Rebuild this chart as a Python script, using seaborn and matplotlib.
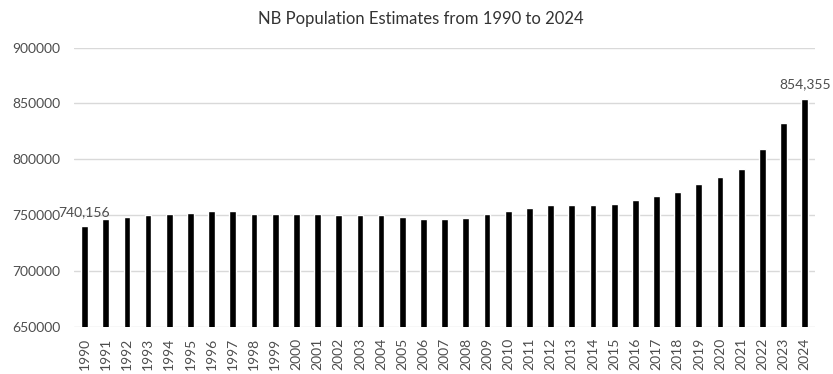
import matplotlib
matplotlib.use("Agg")
import matplotlib.pyplot as plt
import seaborn as sns
import pandas as pd

years = [str(y) for y in range(1990, 2025)]
population = [
    740156, 746100, 748500, 749700, 750900, 752100, 753300, 753300, 750900, 750900,
    750900, 750900, 749700, 749700, 749700, 748500, 746100, 746100, 747300, 750900,
    753300, 756600, 759000, 759000, 759000, 760200, 763800, 767400, 770700, 777600,
    783800, 791600, 809500, 832400, 854355,
]
y_ticks = [650000, 700000, 750000, 800000, 850000, 900000]
title = "NB Population Estimates from 1990 to 2024"

df = pd.DataFrame({"year": years, "population": population})

sns.set_theme(style="white")
plt.rcParams["font.family"] = ["Lato", "DejaVu Sans"]

text_color = "#4d4d4d"
fig = plt.figure(figsize=(8.33, 3.74), dpi=100)
ax = fig.add_axes([0.0888, 0.1265, 0.890, 0.746])

sns.barplot(data=df, x="year", y="population", color="black", width=0.32,
            saturation=1, ax=ax, zorder=3)

ax.set_ylim(y_ticks[0], y_ticks[-1])
ax.set_yticks(y_ticks)
ax.set_yticklabels([str(v) for v in y_ticks], color=text_color, fontsize=10)
ax.set_xlim(-0.5, len(years) - 0.5)
ax.set_xticks(range(len(years)))
ax.set_xticklabels(years, rotation=90, color=text_color, fontsize=10)
ax.tick_params(axis="both", length=0)
ax.tick_params(axis="x", pad=8)
ax.tick_params(axis="y", pad=10)
ax.set_xlabel("")
ax.set_ylabel("")

ax.yaxis.grid(True, color="#d9d9d9", linewidth=1)
ax.set_axisbelow(True)
for side in ["top", "right", "left", "bottom"]:
    ax.spines[side].set_visible(False)

# Value labels on the first and last bars
for i in (0, len(population) - 1):
    ax.annotate(f"{population[i]:,}", xy=(i, population[i]), xytext=(0, 6),
                textcoords="offset points", ha="center", va="bottom",
                color=text_color, fontsize=10)

fig.suptitle(title, x=0.505, y=0.97, fontsize=12, color="#333333")

fig.savefig("out.png", dpi=100)
